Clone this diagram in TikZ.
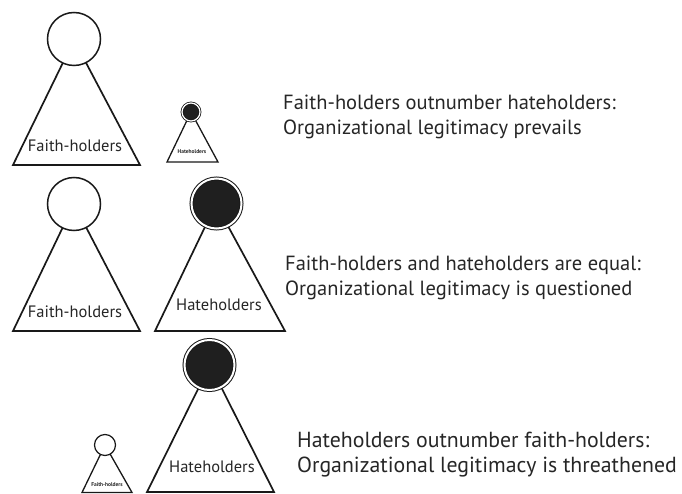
\documentclass[tikz,border=0pt]{standalone}
\usepackage{fontspec}
\setmainfont{PT Sans}
\begin{document}
\begin{tikzpicture}[x=1pt,y=-1pt,
  tri/.style={draw=black!90, line width=1.7pt, line join=miter},
  fcirc/.style={circle, draw=black!90, fill=white, line width=1.5pt, inner sep=0pt},
  hcirc/.style={circle, draw=black!90, fill=black!88, double=white, line width=1pt, double distance=2pt, inner sep=0pt},
  lbl/.style={font=\fontsize{16.5}{18}\selectfont, text=black!85, inner sep=0pt},
  tiny/.style={font=\fontsize{5.5}{6}\selectfont\bfseries, text=black!85, inner sep=0pt},
  desc/.style={font=\fontsize{20.5}{25}\selectfont, text=black!85, align=left, anchor=west, inner sep=0pt}]
\useasboundingbox (0,0) rectangle (682,494);
% row 1
\coordinate (a1) at (74,40);
\draw[tri] (a1) -- (13,165) -- (140,165) -- cycle;
\node[fcirc, minimum size=53pt] (f1) at (74,39) {};
\node[lbl] (f1l) at (75,146) {Faith-holders};
\coordinate (a2) at (191,112);
\draw[tri, line width=1.3pt] (a2) -- (167,162) -- (218,162) -- cycle;
\node[hcirc, line width=0.8pt, double distance=1.2pt, minimum size=18pt] (h1) at (191,112) {};
\node[tiny] (h1l) at (192,152) {Hateholders};
\node[desc] (d1) at (283,116.5) {Faith-holders outnumber hateholders:\\Organizational legitimacy prevails};
% row 2
\coordinate (a3) at (74,204);
\draw[tri] (a3) -- (13,331) -- (140,331) -- cycle;
\node[fcirc, minimum size=53pt] (f2) at (74,204) {};
\node[lbl] (f2l) at (75,312) {Faith-holders};
\coordinate (a4) at (216,204);
\draw[tri] (a4) -- (155,331) -- (285,331) -- cycle;
\node[hcirc, minimum size=50pt] (h2) at (216.5,203.5) {};
\node[lbl] (h2l) at (219,305) {Hateholders};
\node[desc] (d2) at (285,277.5) {Faith-holders and hateholders are equal:\\Organizational legitimacy is questioned};
% row 3
\coordinate (a5) at (105,445);
\draw[tri, line width=1.3pt] (a5) -- (82,492.5) -- (132,492.5) -- cycle;
\node[fcirc, line width=1.2pt, minimum size=21pt] (f3) at (105,445) {};
\node[tiny] (f3l) at (107,485) {Faith-holders};
\coordinate (a6) at (210,365);
\draw[tri] (a6) -- (147,492) -- (274,492) -- cycle;
\node[hcirc, minimum size=50pt] (h3) at (209.5,365) {};
\node[lbl] (h3l) at (212,467) {Hateholders};
\node[desc, font=\fontsize{21.8}{25}\selectfont] (d3) at (297,455) {Hateholders outnumber faith-holders:\\Organizational legitimacy is threathened};
\end{tikzpicture}
\end{document}
